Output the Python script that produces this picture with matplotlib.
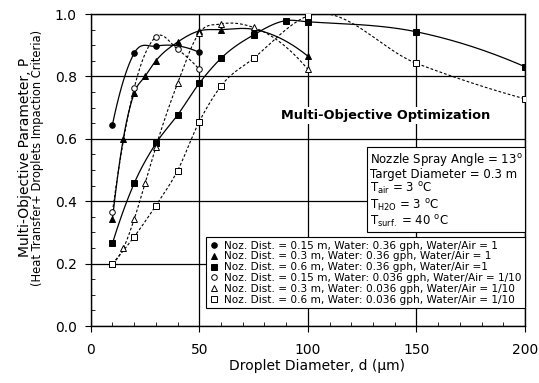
import numpy as np
import matplotlib.pyplot as plt
from matplotlib.ticker import MultipleLocator

plt.rcParams['font.family'] = 'DejaVu Sans'
plt.rcParams['mathtext.fontset'] = 'dejavusans'

# droplet diameter (um) and P values for each case
d_c_036_015 = [10, 20, 30, 50]
p_c_036_015 = [0.645, 0.874, 0.897, 0.877]

d_t_036_03 = [10, 15, 20, 25, 30, 40, 50, 60, 75, 100]
p_t_036_03 = [0.342, 0.600, 0.746, 0.800, 0.850, 0.910, 0.946, 0.950, 0.951, 0.865]

d_s_036_06 = [10, 20, 30, 40, 50, 60, 75, 90, 100, 150, 200]
p_s_036_06 = [0.265, 0.457, 0.585, 0.676, 0.778, 0.858, 0.933, 0.979, 0.975, 0.943, 0.831]

d_c_0036_015 = [10, 20, 30, 40, 50]
p_c_0036_015 = [0.366, 0.762, 0.927, 0.887, 0.823]

d_t_0036_03 = [10, 15, 20, 25, 30, 40, 50, 60, 75, 100]
p_t_0036_03 = [0.200, 0.249, 0.342, 0.457, 0.575, 0.778, 0.940, 0.968, 0.957, 0.823]

d_s_0036_06 = [10, 20, 30, 40, 50, 60, 75, 100, 150, 200]
p_s_0036_06 = [0.200, 0.286, 0.386, 0.498, 0.655, 0.769, 0.858, 0.994, 0.842, 0.728]

labels = [
    'Noz. Dist. = 0.15 m, Water: 0.36 gph, Water/Air = 1',
    'Noz. Dist. = 0.3 m, Water: 0.36 gph, Water/Air = 1',
    'Noz. Dist. = 0.6 m, Water: 0.36 gph, Water/Air =1',
    'Noz. Dist. = 0.15 m, Water: 0.036 gph, Water/Air = 1/10',
    'Noz. Dist. = 0.3 m, Water: 0.036 gph, Water/Air = 1/10',
    'Noz. Dist. = 0.6 m, Water: 0.036 gph, Water/Air = 1/10',
]


def smooth(x, y, n=40):
    # cubic hermite in x, slopes from 3-point (bessel) estimate
    x = np.asarray(x, float)
    y = np.asarray(y, float)
    h = np.diff(x)
    d = np.diff(y) / h
    m = np.empty_like(y)
    m[1:-1] = (h[1:] * d[:-1] + h[:-1] * d[1:]) / (h[:-1] + h[1:])
    if len(x) > 2:
        m[0] = 2 * d[0] - m[1]
        m[-1] = 2 * d[-1] - m[-2]
    else:
        m[:] = d[0]
    xs, ys = [], []
    for i in range(len(x) - 1):
        t = np.linspace(0, 1, n)
        h00 = 2 * t ** 3 - 3 * t ** 2 + 1
        h10 = t ** 3 - 2 * t ** 2 + t
        h01 = -2 * t ** 3 + 3 * t ** 2
        h11 = t ** 3 - t ** 2
        xs.append(x[i] + t * h[i])
        ys.append(h00 * y[i] + h10 * h[i] * m[i] + h01 * y[i + 1] + h11 * h[i] * m[i + 1])
    return np.concatenate(xs), np.concatenate(ys)


fig = plt.figure(figsize=(5.39, 3.83), dpi=100)
ax = fig.add_axes([0.1683, 0.1488, 0.8057, 0.8146])

dash = (0, (2.5, 1.8))
series = [
    (d_c_036_015, p_c_036_015, 'o', 'k', '-'),
    (d_t_036_03, p_t_036_03, '^', 'k', '-'),
    (d_s_036_06, p_s_036_06, 's', 'k', '-'),
    (d_c_0036_015, p_c_0036_015, 'o', 'w', dash),
    (d_t_0036_03, p_t_0036_03, '^', 'w', dash),
    (d_s_0036_06, p_s_0036_06, 's', 'w', dash),
]

for (x, y, m, fc, ls), lab in zip(series, labels):
    xs, ys = smooth(x, y)
    ax.plot(xs, ys, color='k', lw=0.9 if ls == '-' else 0.8, linestyle=ls, zorder=3)
    ax.plot(x, y, linestyle='none', marker=m, ms=4, mfc=fc, mec='k', mew=0.7,
            label=lab, zorder=4)

ax.set_xlim(0, 200)
ax.set_ylim(0, 1.0)
ax.xaxis.set_major_locator(MultipleLocator(50))
ax.xaxis.set_minor_locator(MultipleLocator(10))
ax.yaxis.set_major_locator(MultipleLocator(0.2))
ax.yaxis.set_minor_locator(MultipleLocator(0.05))
ax.yaxis.set_major_formatter(plt.FormatStrFormatter('%.1f'))
ax.tick_params(which='major', direction='out', length=4, width=0.8, labelsize=10, colors='k')
ax.tick_params(axis='x', which='major', pad=8)
ax.tick_params(axis='y', which='major', pad=6)
ax.tick_params(which='minor', direction='in', length=3, width=0.6)
ax.grid(True, which='major', color='k', lw=0.9)
ax.set_axisbelow(True)
for s in ax.spines.values():
    s.set_linewidth(1.0)

fig.text(0.588, 0.044, 'Droplet Diameter, d (µm)', fontsize=10, ha='center', va='center')
fig.text(0.046, 0.588, 'Multi-Objective Parameter, P', rotation=90, fontsize=10,
         ha='center', va='center')
fig.text(0.07, 0.588, '(Heat Transfer+ Droplets Impaction Criteria)', rotation=90,
         fontsize=8.3, ha='center', va='center')

ax.text(136, 0.676, 'Multi-Objective Optimization', fontsize=9.3, fontweight='bold',
        ha='center', va='center',
        bbox=dict(facecolor='white', edgecolor='none', pad=1.5), zorder=5)

info = ('Nozzle Spray Angle = 13$^\\mathrm{o}$\n'
        'Target Diameter = 0.3 m\n'
        'T$_\\mathrm{air}$ = 3 $^\\mathrm{o}$C\n'
        'T$_\\mathrm{H2O}$ = 3 $^\\mathrm{o}$C\n'
        'T$_\\mathrm{surf.}$ = 40 $^\\mathrm{o}$C')
ax.text(128.6, 0.562, info, fontsize=8.5, ha='left', va='top', linespacing=1.02,
        bbox=dict(facecolor='white', edgecolor='k', lw=0.8, boxstyle='square,pad=0.22'),
        zorder=5)

leg = ax.legend(loc='lower right', bbox_to_anchor=(1.0, 0.058), fontsize=7.6,
                frameon=True, fancybox=False, edgecolor='k', framealpha=1,
                handlelength=0.8, handletextpad=0.6, labelspacing=0.08,
                borderpad=0.3, borderaxespad=0)
leg.get_frame().set_linewidth(0.8)
leg.set_zorder(6)

fig.savefig('out.png', dpi=100)
